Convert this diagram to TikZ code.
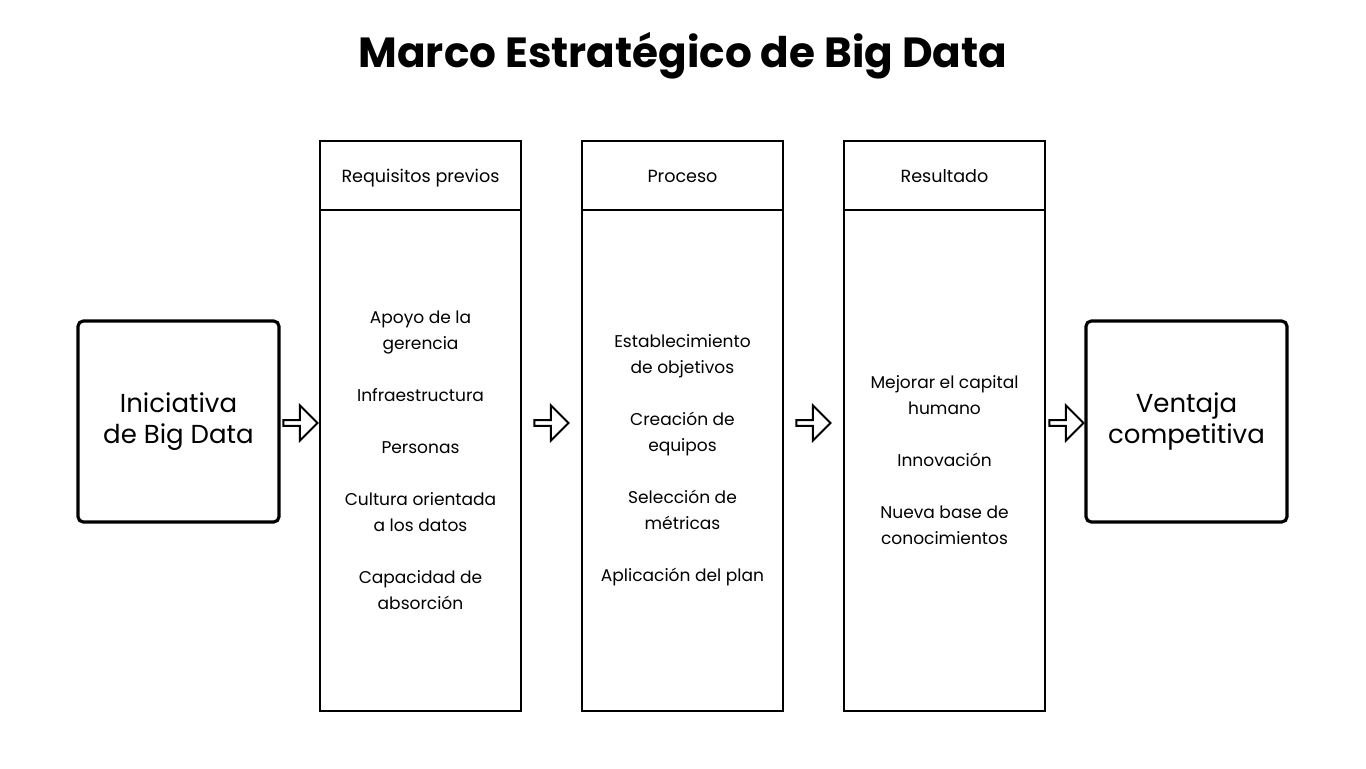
\documentclass[tikz,border=0pt]{standalone}
\usepackage{fontspec}
\setmainfont{Poppins}
\usetikzlibrary{shapes.arrows}
\tikzset{
	endbox/.style={draw, line width=1.8pt, rounded corners=3pt, minimum width=201*0.02cm, minimum height=201*0.02cm, align=center, font=\fontsize{14.8}{17.5}\selectfont},
	colbox/.style={draw, line width=1.4pt, minimum width=201*0.02cm, minimum height=570*0.02cm},
	head/.style={font=\fontsize{10}{12}\selectfont, anchor=base},
	items/.style={align=center, font=\fontsize{9.7}{14.8}\selectfont},
	hollowarrow/.style={single arrow, draw, line width=1.1pt, minimum width=35*0.02cm, minimum height=34*0.02cm, single arrow head extend=5*0.02cm, inner sep=0pt},
}
\begin{document}
\begin{tikzpicture}[x=0.02cm, y=-0.02cm]
	\useasboundingbox (0,0) rectangle (1366,768);
	\node[font=\fontsize{24}{27}\selectfont\bfseries] (title) at (683,56) {Marco Estratégico de Big Data};

	%% Eingang und Ausgang
	\node[endbox] (start) at (178.5,421.5) {Iniciativa\\de Big Data};
	\node[endbox] (goal) at (1186.5,421.5) {Ventaja\\competitiva};

	%% Spalten
	\node[colbox] (req) at (420.5,426) {};
	\node[colbox] (pro) at (682.5,426) {};
	\node[colbox] (res) at (944.5,426) {};
	\foreach \c in {req,pro,res}
		\draw[line width=1.4pt] (\c.north west) ++(0,70) -- ++(201,0);
	\node[head] (reqh) at (420.5,182) {Requisitos previos};
	\node[head] (proh) at (682.5,182) {Proceso};
	\node[head] (resh) at (944.5,182) {Resultado};

	\node[items] (reqt) at (420.5,460) {Apoyo de la\\gerencia\\[14.8pt]Infraestructura\\[14.8pt]Personas\\[14.8pt]Cultura orientada\\a los datos\\[14.8pt]Capacidad de\\absorción};
	\node[items] (prot) at (682.5,460) {Establecimiento\\de objetivos\\[14.8pt]Creación de\\equipos\\[14.8pt]Selección de\\métricas\\[14.8pt]Aplicación del plan};
	\node[items] (rest) at (944.5,460) {Mejorar el capital\\humano\\[14.8pt]Innovación\\[14.8pt]Nueva base de\\conocimientos};

	%% Pfeile
	\node[hollowarrow] (a1) at (299,423) {};
	\node[hollowarrow] (a2) at (550,423) {};
	\node[hollowarrow] (a3) at (812,423) {};
	\node[hollowarrow] (a4) at (1065,423) {};
\end{tikzpicture}
\end{document}
